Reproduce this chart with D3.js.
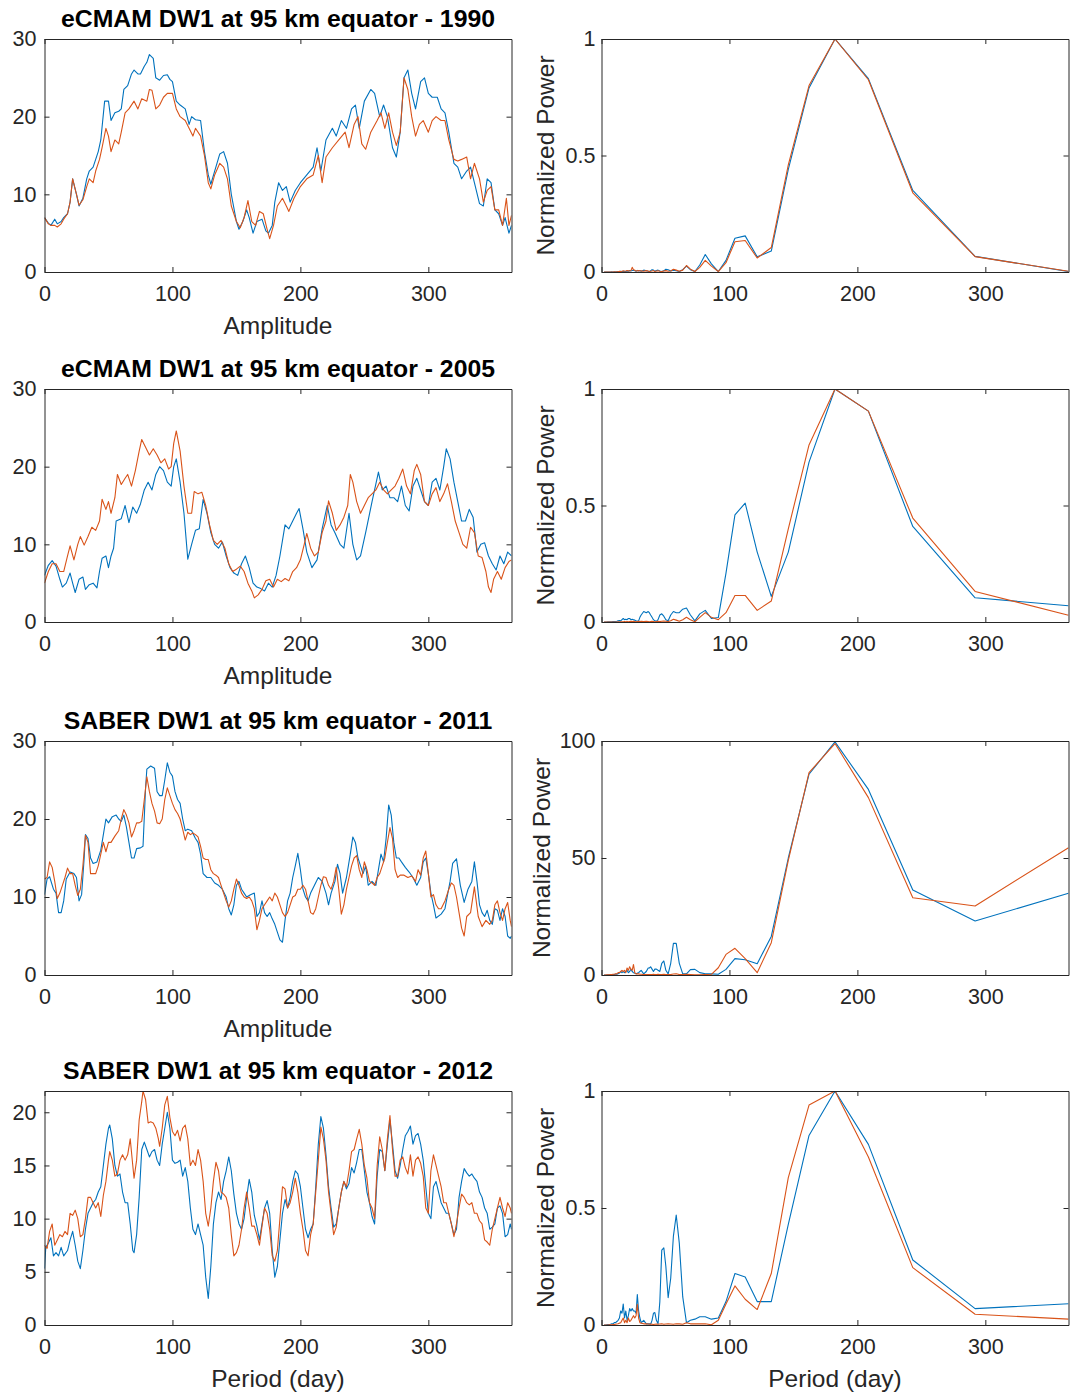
<!DOCTYPE html>
<html><head><meta charset="utf-8">
<script src="https://cdn.jsdelivr.net/npm/d3@7"></script>
<style>
body{margin:0;background:#fff;}
svg{display:block;font-family:"Liberation Sans",Arial,Helvetica,sans-serif;}
.axis text{font-size:21.5px;fill:#262626;font-family:"Liberation Sans",Arial,Helvetica,sans-serif;}
.axis path,.axis line{stroke:#262626;stroke-width:1;}
.lbl{font-size:24.5px;fill:#262626;}
.ttl{font-size:24.8px;font-weight:bold;fill:#000;}
</style></head><body>
<script>
// ---- daily DW1 amplitude, [day, amplitude] ----
const amp1990Blue = [[0,7],[3,6.3],[5,6],[8,6.8],[10,6.2],[13,6.5],[15,7],[18,7.5],[20,9],[22,12],[25,10],[27,8.5],[30,9.5],[33,12],[35,13],[38,13.5],[40,14.5],[42,15.5],[44,17],[47,22],[50,22],[52,19.5],[55,20.5],[58,20.7],[60,21],[62,23.5],[65,24],[68,25.5],[70,26],[73,25.5],[75,25.5],[78,26.5],[80,27],[82,28],[85,27.5],[87,25],[90,24.7],[93,25.3],[96,25.4],[98,24.8],[100,24.5],[103,22],[106,21.5],[110,21],[113,19],[115,20],[118,19.6],[122,19.5],[125,15.5],[128,12.5],[130,11.3],[133,13],[137,15.2],[140,15.5],[143,14],[146,10],[150,6.5],[152,5.5],[155,6.5],[158,8],[160,7],[163,5],[166,6.5],[170,6.8],[173,5.3],[175,5],[178,6],[180,9],[183,11.5],[186,10.5],[189,11],[192,9],[196,10.5],[200,11.5],[205,12.5],[210,13.5],[213,16],[216,13],[220,17],[225,18.5],[228,17.5],[232,19.5],[236,18.5],[240,21],[243,21.5],[246,18.5],[250,22],[255,23.5],[258,23],[262,20],[265,21.5],[268,20],[272,16],[275,14.8],[278,18],[281,25],[284,26],[287,23],[290,21],[294,24.5],[297,25],[300,23],[303,22.5],[307,22.5],[310,21],[313,20.5],[316,18],[320,14],[323,13.5],[326,12],[330,13],[333,13.5],[336,11.5],[340,8.8],[343,8.5],[346,12],[349,11.5],[352,8],[355,7.5],[358,6],[360,7],[363,5],[365,6]];
const amp1990Orange = [[0,7],[3,6.2],[5,6],[8,6],[10,5.8],[13,6.2],[15,6.8],[18,7.5],[20,9],[22,12],[25,10],[27,8.6],[30,9.3],[33,11],[35,12],[38,11.5],[40,13],[43,14.5],[45,16],[48,18.5],[50,17.5],[52,15.5],[55,17],[58,16.5],[60,18],[63,20.5],[66,21],[70,22],[73,21],[76,22.3],[80,22],[82,23.5],[84,23.4],[87,21],[90,21.5],[93,22.5],[96,23],[100,23],[103,21],[106,20],[110,19.5],[113,18.5],[116,17.5],[118,18.5],[122,17.5],[125,15],[128,11.5],[130,10.7],[133,12.5],[137,14],[140,13.5],[143,12],[146,8.5],[150,6.5],[153,5.7],[156,7],[159,9.2],[162,6.5],[165,6],[168,7.8],[171,7.5],[174,5.5],[176,4.3],[179,6],[182,8.5],[186,9.5],[189,8.5],[191,7.8],[195,9.5],[200,11],[205,12],[210,12.5],[214,15],[217,11.5],[220,14.8],[225,16],[230,17],[235,18],[238,16],[242,19],[245,20],[248,16.5],[251,15.8],[255,18],[260,19.5],[263,20.5],[266,18.5],[269,20.5],[272,18],[275,16.3],[278,18],[281,25],[284,23.5],[287,20],[290,17.5],[293,19],[296,19.5],[300,18],[303,19.5],[306,20],[310,19.5],[313,19.5],[316,17],[320,14.5],[323,14.3],[326,14.5],[330,14.8],[333,12],[336,14],[340,12],[343,9],[346,10.5],[349,11],[352,8],[355,8],[358,6],[361,9.5],[363,6],[365,7.3]];

const amp2005Blue = [[0,6],[3,7.3],[6,7.9],[9,7.2],[12,5.5],[14,4.5],[17,5],[20,6.3],[22,5],[24,3.8],[27,5.5],[30,5.8],[32,4.2],[35,4.8],[38,5],[41,4.4],[43,6.5],[45,8.2],[48,8.5],[50,7],[52,8.5],[54,9.5],[56,13],[60,13.3],[63,15],[66,12.8],[69,14.8],[72,14],[75,15.2],[78,17],[81,18],[84,17],[87,19],[90,20],[93,19.5],[96,18],[99,17.5],[101,20],[103,21],[106,18],[109,14],[112,8.1],[115,10],[118,11.8],[121,12],[124,15.8],[127,14],[130,11.5],[133,10],[136,9.5],[139,10.3],[142,8.5],[145,7],[148,6.3],[151,6],[154,7.5],[157,8.5],[160,7],[163,5],[166,4.5],[169,4.3],[172,4],[175,5],[178,4.5],[181,6],[184,8.5],[188,12.5],[191,12],[194,13],[197,14],[199,14.6],[202,12],[205,9],[209,7],[213,8],[217,12],[221,15],[224,12.5],[227,11.5],[231,10],[234,9.5],[238,14],[241,10],[244,8],[247,8.5],[251,11.5],[256,15.5],[261,19.3],[264,17],[267,17.5],[270,16],[273,16],[276,15.5],[279,17.5],[282,15],[285,14.3],[288,17.5],[291,18.5],[294,17],[297,15.5],[300,15],[303,18],[306,18.5],[309,17],[312,20],[314,22.3],[317,21],[320,18],[323,15.5],[326,13],[329,13],[332,14.5],[335,13.5],[338,9],[341,10],[344,10.2],[347,8.5],[350,7.5],[353,6.7],[356,8.5],[359,7.5],[362,9],[365,8.5]];
const amp2005Orange = [[0,5],[3,6.5],[6,7.5],[9,7.5],[12,6.5],[15,6.5],[18,8.5],[20,9.8],[23,8],[26,10],[28,11],[31,9.9],[34,11],[37,12.2],[40,11.8],[43,13],[45,15.8],[48,14.5],[50,15.5],[52,14],[55,16],[57,19],[60,17.7],[63,18.5],[65,19],[68,17.5],[71,19.5],[74,22],[76,23.5],[79,22.5],[82,21.5],[85,22.3],[88,21.5],[91,20.5],[94,21],[97,19.7],[99,20],[101,23],[103,24.6],[106,22],[109,17.5],[112,14],[115,14],[117,16.8],[120,16.5],[123,16.7],[126,15],[129,12.5],[132,10.5],[135,10],[138,10.5],[141,9.5],[144,7.5],[147,6.5],[150,6.8],[153,7.2],[156,6.5],[159,5],[162,4],[164,3.1],[167,3.5],[170,4.2],[173,5.3],[176,5.5],[179,4.5],[182,5.5],[185,5.2],[188,5.6],[191,5.3],[194,6.5],[197,7],[200,8],[203,10],[205,11.4],[208,9.5],[211,8.5],[214,9],[217,11.5],[220,13],[222,15.6],[225,14],[228,11.8],[231,12.5],[234,13.5],[237,15],[239,19],[241,18],[244,15.5],[247,14],[250,15],[253,16],[256,16.5],[259,17],[262,18],[265,17],[268,16.5],[271,17],[274,17.5],[277,18.5],[280,19.7],[283,17.5],[286,16.5],[289,19.5],[291,20.3],[294,19],[297,15.5],[300,15],[303,16.5],[306,17.3],[309,15.5],[312,16.5],[315,17.8],[318,15.5],[321,13],[324,11.5],[327,10],[330,9.5],[333,12.2],[336,11.5],[339,8.5],[342,8.3],[345,6.5],[347,4.5],[349,3.8],[351,5.5],[354,6.5],[357,5.5],[360,7],[363,7.8],[365,8]];

const amp2011Blue = [[0,10.3],[2,12.3],[4,12.6],[7,11],[9,10.5],[11,8],[13,8],[15,9.5],[17,12.3],[20,13.2],[23,13],[25,12.5],[27,9.5],[29,10.3],[31,15],[32,18],[34,17.5],[36,15],[38,14.3],[41,14.5],[44,16],[46,18],[48,20],[50,19.5],[53,20.3],[56,20.5],[58,20],[60,19.7],[62,20.5],[64,19],[66,17],[68,15],[70,15],[72,16.2],[75,16.3],[77,16.5],[79,24],[80,26.4],[83,26.8],[86,26.5],[88,23.5],[90,23],[92,23],[94,25],[96,27.2],[98,26],[100,25.5],[102,23.5],[104,22.5],[106,22],[108,20],[110,18.5],[112,18.7],[115,18.5],[118,17.5],[120,17],[122,15.5],[124,13],[127,12.5],[130,12.5],[133,11.8],[136,11.5],[139,11],[142,10],[144,8.5],[146,7.7],[148,9],[150,11.5],[152,12],[154,11],[156,10.5],[158,10],[161,10.3],[164,10.5],[166,7.5],[168,8],[170,9.5],[172,8],[174,7.5],[176,8],[178,7.2],[180,6.5],[182,5.5],[184,4.5],[186,4.2],[188,7],[190,9.5],[192,10.5],[194,12.5],[196,14],[198,15.6],[200,13.5],[202,11],[204,10],[206,9.5],[208,10.5],[211,11.5],[214,12.5],[217,12],[220,10.5],[222,9],[224,10.5],[227,12],[229,14.2],[231,13],[233,10.5],[236,12.5],[239,15.5],[241,17.7],[243,17],[245,15],[247,14],[249,13],[251,14],[253,11.5],[256,12],[259,11.5],[261,13.5],[263,15.5],[265,14.5],[267,17.5],[269,21.8],[271,20.5],[273,17],[275,15],[277,15],[279,14.5],[282,13.8],[285,13.2],[288,12.5],[291,11.5],[294,12.5],[296,14.5],[298,15],[300,13],[302,10.5],[304,9],[306,7.3],[310,7.8],[313,8.5],[317,12],[319,14.3],[322,14.9],[325,11.5],[328,9.3],[331,11],[334,12],[336,14.5],[338,12],[340,9],[342,8],[344,7.5],[346,8.3],[348,7],[350,6.5],[352,8.5],[354,8.3],[356,7],[358,8.5],[360,7.5],[362,5],[364,4.7],[365,5]];
const amp2011Orange = [[0,12.3],[2,12.5],[4,14.5],[6,13.8],[8,12],[10,9.8],[12,10.5],[14,11.5],[16,12.5],[18,13.7],[20,13],[22,13],[24,11.5],[26,10.2],[28,11],[30,14],[32,17.9],[34,17],[36,13],[38,13],[40,13],[42,14],[44,15.5],[46,17],[48,15.8],[50,17],[52,17],[55,17.8],[58,18.5],[60,20],[62,21.2],[64,20.5],[66,19.5],[68,17.7],[70,18.5],[72,19.5],[74,19.5],[76,19.7],[78,22.5],[80,25.4],[82,23.5],[84,22],[86,21],[88,19.5],[90,19.4],[92,20],[94,22.5],[96,24],[98,23],[100,22],[102,21.2],[104,20.7],[106,20],[108,18.7],[110,17.3],[112,18.3],[114,18],[116,18.2],[118,18],[120,17.7],[122,16.5],[124,15],[126,14.8],[128,14.8],[130,13.5],[132,13],[134,12.8],[136,12.5],[138,11.5],[140,10.5],[142,9.5],[144,8.7],[146,9.5],[148,11],[150,12.3],[152,11.5],[154,10.5],[156,10],[158,9.8],[160,10],[162,9.5],[164,8.5],[166,5.8],[168,7],[170,8.5],[172,9],[174,9.5],[176,10],[178,9.5],[180,10.5],[182,10],[184,9],[186,8],[188,7.5],[190,8],[192,9],[194,10],[196,10.2],[198,11],[200,11],[202,11.5],[204,11],[206,9.5],[208,8],[210,7.8],[212,8.5],[214,10],[216,11.5],[218,12.6],[220,12.5],[222,11.5],[224,11],[226,12],[228,13.8],[230,11],[232,7.8],[234,9],[236,11],[238,12.5],[240,14],[242,15],[244,15.3],[246,13.5],[248,12.5],[250,14.5],[252,13.5],[254,12],[256,11.8],[258,11.5],[260,12.5],[262,13],[264,14],[266,15],[268,17],[270,18.9],[272,17.5],[274,13.5],[276,12.5],[278,12.8],[281,12.8],[284,12.5],[287,12.7],[290,12],[292,13.5],[294,12.8],[296,15],[298,15.9],[300,13],[302,10],[304,10.3],[306,9],[308,8.5],[310,8.5],[313,9.5],[316,11],[318,11.8],[320,11.5],[322,10],[324,8],[326,6],[328,5],[330,7.5],[333,8],[336,11.3],[339,7.5],[342,6.2],[345,7],[348,6.5],[350,7],[352,9],[354,9.5],[356,8],[358,7],[360,8.5],[362,9.3],[364,7],[365,6.2]];

const amp2012Blue = [[0,5.3],[1,7.3],[3,7.7],[5,8.2],[7,6.5],[9,6.8],[11,6.5],[13,7.3],[15,6.5],[18,7],[20,8],[22,8.8],[24,7.5],[26,6],[28,5.3],[30,7],[32,9],[34,10.5],[36,11],[38,11.5],[40,11.8],[42,12.5],[44,13],[46,15],[48,17],[50,18.5],[51,18.8],[53,17.5],[55,15],[57,14],[59,14.2],[61,12.5],[63,11.5],[65,11.5],[67,9.5],[69,7],[70,6.8],[72,8.5],[74,12],[76,16.5],[78,17.2],[80,16.5],[82,15.8],[84,16.3],[86,16.5],[88,15.5],[90,15],[92,17],[94,18.5],[96,20],[98,18.5],[100,15.5],[102,15.2],[104,15.3],[106,15.5],[108,14],[110,14.8],[112,13.5],[114,11],[116,9],[118,8.5],[120,9.5],[122,8.5],[124,7.5],[126,4.5],[128,2.5],[130,5.5],[132,9.5],[134,11.5],[136,12.5],[138,11.8],[140,13.5],[142,14.5],[144,15.8],[146,14.5],[148,12.3],[150,10.5],[152,9.5],[154,9],[156,10],[158,12],[160,13.7],[162,12.5],[164,10.3],[166,9.3],[168,8],[170,9.5],[172,11],[174,11.7],[176,10.5],[178,7],[180,4.5],[182,5.5],[184,8],[186,10.5],[188,11.8],[190,11],[192,12],[194,13.5],[196,14.5],[198,14.2],[200,13],[202,11],[204,9],[206,8.2],[208,9],[210,9.5],[212,13],[214,17],[216,19.6],[218,18.5],[220,16],[222,13],[224,11],[226,9.2],[228,9.5],[230,11],[232,12.5],[234,13.5],[236,12.8],[238,13.3],[240,14.8],[242,14.3],[244,15.3],[246,16.5],[248,16.5],[250,14.5],[252,12.5],[254,11.5],[256,10.2],[258,9.5],[260,14],[262,16.5],[264,16.3],[266,14.5],[268,17],[270,19.3],[272,17],[274,14.5],[276,13.8],[278,15],[280,16.5],[282,17.8],[284,18.2],[286,18.7],[288,17],[290,17.8],[292,18],[294,17],[296,15.5],[298,13],[300,10.5],[302,10],[304,13],[306,13.5],[308,12.5],[310,11.5],[312,11],[314,10.5],[316,10.5],[318,9.5],[320,8.5],[322,9],[324,12],[326,13.5],[328,14.7],[330,14.3],[332,14],[334,14.2],[336,13.8],[338,13.5],[340,12.5],[342,12],[344,11],[346,10.5],[348,9],[350,9.2],[352,9.5],[354,11],[356,11.2],[358,10.5],[360,8.3],[362,8.5],[364,9.5],[365,9]];
const amp2012Orange = [[0,7.5],[2,7.2],[4,8.8],[6,9.5],[8,7.5],[10,8],[12,8.5],[14,8.3],[16,8.8],[18,8.5],[20,10.5],[22,10.3],[24,10.8],[26,10],[28,8.3],[30,8.5],[32,10],[34,12],[36,12],[38,11.5],[40,11],[42,11.5],[44,10.2],[46,12.2],[48,13.5],[50,15.5],[51,16.3],[53,15.5],[55,14],[57,14.2],[59,15.5],[61,16],[63,15.5],[65,16],[67,17.5],[69,15],[70,13.8],[72,15.5],[74,19.3],[76,21],[77,22],[79,21.2],[81,19],[83,19.1],[85,19],[87,18.5],[89,17.5],[90,16.8],[92,18.5],[94,20.7],[96,21.5],[98,19.5],[100,18.2],[102,17.8],[104,18.3],[106,17.3],[108,18.5],[110,18.8],[112,17.5],[114,15],[116,15.5],[118,15],[120,16.5],[122,15.5],[124,13.5],[126,10.5],[128,9.3],[130,11],[132,13.5],[134,15.3],[136,14.5],[138,12.5],[140,12.3],[142,12],[144,11],[146,8.5],[148,6.5],[150,6.8],[152,7.5],[154,9],[156,11],[158,12.5],[160,11],[162,9.3],[164,9.3],[166,8.5],[168,7.5],[170,9.3],[172,11],[174,10.5],[176,9],[178,6.5],[180,6],[182,7],[184,10],[186,13],[188,12.8],[190,11],[192,11.5],[194,12.5],[196,13.8],[198,12.5],[200,10.5],[202,9],[204,7],[206,6.5],[208,8.5],[210,9.5],[212,12.5],[214,15.5],[216,18.6],[218,17.5],[220,15.5],[222,12.5],[224,10.5],[226,8.5],[228,9.2],[230,11],[232,12.5],[234,13.5],[236,13],[238,14.5],[240,16.3],[242,16.5],[244,17.5],[246,18.4],[248,17],[250,15],[252,13.8],[254,11.5],[256,11],[258,10],[260,15],[262,17.7],[264,16.5],[266,14.5],[268,17.5],[270,19.7],[272,16.5],[274,14],[276,14],[278,15.5],[280,15.8],[282,14.8],[284,14.2],[286,16],[288,14],[290,15.5],[292,15.8],[294,15.2],[296,14],[298,11],[300,10.5],[302,14.5],[304,16],[306,15],[308,14],[310,13],[312,11.5],[314,11.5],[316,10.5],[318,9.5],[320,8.3],[322,9.5],[324,11],[326,12.3],[328,12],[330,11.5],[332,11.3],[334,11.5],[336,10.5],[338,10.5],[340,9.8],[342,9.5],[344,8],[346,7.8],[348,7.5],[350,9],[352,10],[354,11],[356,12],[358,11],[360,10.2],[362,11.5],[364,11],[365,10.5]];

// ---- power spectra: periods (day) and normalized power at each period ----
const periods = [365,292,243.3,208.6,182.5, 162.2,146,132.7,121.7,112.3, 104.3,97.3,91.3,85.9,81.1, 76.8,73,69.5,66.4,63.5, 60.8,58.4,56.2,54.1,52.1, 50.3,48.7,47.1,45.6,44.2, 42.9,41.7,40.6,39.5,38.4, 37.4,36.5,35,33,31, 30,29,28,27,26, 25,24,23,22,21, 20,19,18,17,16, 15,14,13,12,11, 10,9,8,7,6, 5,4,3,2];

const pow1990Blue = [0.002,0.067,0.35,0.83,1, 0.79,0.44,0.09,0.065,0.155, 0.145,0.05,0.002,0.035,0.075, 0.03,0.002,0.01,0.025,0.01, 0.002,0.005,0.008,0.004,0.01, 0.012,0.005,0.002,0.004,0.008, 0.006,0.003,0.008,0.01,0.005, 0.002,0.003,0.005,0.008,0.003, 0.006,0.004,0.007,0.003,0.005, 0.008,0.006,0.004,0.006,0.003, 0.004,0.002,0.003,0.002,0.002, 0.003,0.001,0.002,0.001,0.001, 0.001,0,0.001,0,0, 0,0,0,0];
const pow1990Orange = [0.003,0.066,0.34,0.825,1, 0.8,0.46,0.105,0.06,0.135, 0.13,0.04,0.002,0.025,0.05, 0.02,0.002,0.012,0.028,0.008, 0.003,0.008,0.012,0.004,0.003, 0.006,0.004,0.002,0.003,0.005, 0.004,0.002,0.006,0.004,0.003, 0.002,0.004,0.006,0.003,0.005, 0.004,0.006,0.005,0.004,0.008, 0.01,0.02,0.006,0.004,0.005, 0.006,0.004,0.003,0.005,0.003, 0.002,0.003,0.001,0.001,0, 0.001,0,0,0,0, 0,0,0,0];

const pow2005Blue = [0.07,0.104,0.41,0.905,1, 0.686,0.3,0.11,0.3,0.51, 0.46,0.21,0.019,0.015,0.05, 0.035,0.005,0.03,0.06,0.055, 0.04,0.04,0.045,0.03,0.005, 0.01,0.025,0.035,0.03,0.01, 0.003,0.005,0.01,0.02,0.03, 0.04,0.045,0.04,0.045,0.03, 0.02,0.005,0.003,0.005,0.008, 0.01,0.012,0.01,0.015,0.015, 0.01,0.012,0.01,0.015,0.01, 0.005,0.006,0.005,0.003,0.002, 0.002,0.002,0.001,0.001,0.001, 0.001,0,0,0];
const pow2005Orange = [0.029,0.131,0.446,0.905,1, 0.76,0.4,0.09,0.05,0.114, 0.114,0.04,0.01,0.02,0.04, 0.02,0.001,0.01,0.02,0.01, 0.003,0.008,0.012,0.005,0.002, 0.003,0.004,0.003,0.002,0.003, 0.002,0.001,0.002,0.003,0.002, 0.001,0.002,0.003,0.002,0.003, 0.002,0.003,0.002,0.001,0.002, 0.003,0.002,0.003,0.002,0.001, 0.002,0.001,0.002,0.001,0.001, 0.001,0,0.001,0,0, 0,0,0,0,0, 0,0,0,0];

const pow2011Blue = [34.9,23.1,36.3,79.3,99.6, 85.8,50,16.5,4.8,6.5, 7,2.4,0.3,0.5,0.5, 1,2.4,2.3,0.5,0.5, 5,13.5,13.5,5,0.5, 2,6,5,1.5,2, 2.5,2.5,1.5,2.5,3.5, 3,3,1.5,0.5,2, 1.5,1,0.8,0.5,0.8, 1,1.5,2.5,1.5,1, 2,1.5,1,1.5,1, 1.5,0.8,0.5,0.3,0.3, 0.2,0.2,0.1,0.1,0.1, 0.1,0,0,0];
const pow2011Orange = [54.4,29.5,33,75.8,98.9, 86.5,49,13.8,1,7, 11.4,8.8,3.1,0.3,0.2, 0.1,0.1,0.2,0.3,0.2, 0.2,0.5,0.4,0.2,0.2, 0.2,0.3,0.2,0.2,0.3, 0.2,0.2,0.3,0.2,0.2, 0.2,0.2,0.2,0.2,0.3, 0.3,0.5,0.5,0.5,1, 4.5,2,2.5,3.5,2, 3,1,2,1.5,2, 1.5,1,1,0.5,0.5, 0.3,0.3,0.2,0.2,0.1, 0.1,0.1,0,0];

const pow2012Blue = [0.091,0.07,0.278,0.772,1, 0.81,0.43,0.1,0.1,0.205, 0.22,0.1,0.03,0.025,0.035, 0.035,0.025,0.02,0.01,0.12, 0.35,0.47,0.38,0.2,0.117, 0.25,0.33,0.32,0.1,0.005, 0.02,0.053,0.05,0.02,0.003, 0.005,0.005,0.005,0.02,0.01, 0.03,0.06,0.13,0.05,0.06, 0.06,0.07,0.06,0.07,0.04, 0.02,0.06,0.03,0.09,0.05, 0.06,0.03,0.02,0.015,0.01, 0.01,0.005,0.005,0.003,0.002, 0.002,0.001,0,0];
const pow2012Orange = [0.025,0.046,0.245,0.718,1, 0.94,0.63,0.22,0.066,0.11, 0.167,0.09,0.02,0.001,0.005, 0.005,0.005,0.005,0.01,0.003, 0.005,0.005,0.003,0.004,0.005, 0.004,0.003,0.005,0.004,0.003, 0.004,0.003,0.002,0.003,0.004, 0.003,0.004,0.005,0.005,0.008, 0.01,0.03,0.088,0.04,0.03, 0.04,0.03,0.02,0.015,0.03, 0.01,0.02,0.01,0.03,0.02, 0.01,0.008,0.005,0.004,0.003, 0.002,0.002,0.001,0.001,0.001, 0,0,0,0];

// ---- titles, axis ranges and tick labels ----
const titles = ["eCMAM DW1 at 95 km equator - 1990","eCMAM DW1 at 95 km equator - 2005","SABER DW1 at 95 km equator - 2011","SABER DW1 at 95 km equator - 2012"];
const dayTicks = [0,100,200,300];
const ampMax = [30,30,30,22];
const ampTicks = [[0,10,20,30],[0,10,20,30],[0,10,20,30],[0,5,10,15,20]];
const powMax = [1,1,100,1];
const powTicks = [[0,0.5,1],[0,0.5,1],[0,50,100],[0,0.5,1]];
const leftXLabels = ["Amplitude","Amplitude","Amplitude","Period (day)"];
const rightXLabels = [null,null,null,"Period (day)"];
const seriesColors = ["#0072BD","#D95319"];

const ampSeries = [[amp1990Blue,amp1990Orange],[amp2005Blue,amp2005Orange],[amp2011Blue,amp2011Orange],[amp2012Blue,amp2012Orange]];
const powSeries = [[pow1990Blue,pow1990Orange],[pow2005Blue,pow2005Orange],[pow2011Blue,pow2011Orange],[pow2012Blue,pow2012Orange]]
  .map(pair => pair.map(vals => periods.map((p,j)=>[p, vals[j]])));

// ---- layout ----
const svg = d3.select("body").append("svg").attr("width",1070).attr("height",1395);
const rows = [[39,272],[389,622],[741,975],[1091,1325]];
const plotW = 467, leftX0 = 44.5, rightX0 = 601.5;
const fmt = d3.format("~g");

function drawPanel(o){
  const x = d3.scaleLinear().domain([0,365]).range([o.x0, o.x0+plotW]);
  const y = d3.scaleLinear().domain([0,o.yMax]).range([o.bottom, o.top]);
  const g = svg.append("g");
  const clipId = "clip-"+o.id;
  svg.append("clipPath").attr("id",clipId).append("rect")
    .attr("x",o.x0).attr("y",o.top).attr("width",plotW).attr("height",o.bottom-o.top);
  const line = d3.line().x(d=>x(d[0])).y(d=>y(d[1]));
  const lg = g.append("g").attr("clip-path",`url(#${clipId})`);
  o.series.forEach((s,k)=>{
    lg.append("path").datum(s).attr("d",line).attr("fill","none")
      .attr("stroke",seriesColors[k]).attr("stroke-width",1.1).attr("stroke-linejoin","round");
  });
  g.append("g").attr("class","axis").attr("transform",`translate(0,${o.bottom})`)
    .call(d3.axisBottom(x).tickValues(dayTicks).tickFormat(fmt).tickSizeInner(-5).tickSizeOuter(0).tickPadding(14));
  g.append("g").attr("class","axis").attr("transform",`translate(0,${o.top})`)
    .call(d3.axisTop(x).tickValues(dayTicks).tickFormat("").tickSizeInner(-5).tickSizeOuter(0));
  g.append("g").attr("class","axis").attr("transform",`translate(${o.x0},0)`)
    .call(d3.axisLeft(y).tickValues(o.yTicks).tickFormat(fmt).tickSizeInner(-5).tickSizeOuter(0).tickPadding(o.tickPad));
  g.append("g").attr("class","axis").attr("transform",`translate(${o.x0+plotW},0)`)
    .call(d3.axisRight(y).tickValues(o.yTicks).tickFormat("").tickSizeInner(-5).tickSizeOuter(0));
  if (o.xLabel) {
    g.append("text").attr("class","lbl").attr("x",o.x0+plotW/2).attr("y",o.bottom+62)
      .attr("text-anchor","middle").text(o.xLabel);
  }
  if (o.yLabel) {
    g.append("text").attr("class","lbl").attr("text-anchor","middle")
      .attr("transform",`translate(${o.x0-o.yLabelGap},${(o.top+o.bottom)/2}) rotate(-90)`)
      .text(o.yLabel);
  }
  if (o.title) {
    g.append("text").attr("class","ttl").attr("x",o.x0+plotW/2).attr("y",o.top-12)
      .attr("text-anchor","middle").text(o.title);
  }
}

rows.forEach(([top,bottom],i)=>{
  drawPanel({id:"amp"+i, x0:leftX0, top, bottom, yMax:ampMax[i], yTicks:ampTicks[i], tickPad:8,
    series:ampSeries[i], xLabel:leftXLabels[i], title:titles[i]});
  drawPanel({id:"pow"+i, x0:rightX0, top, bottom, yMax:powMax[i], yTicks:powTicks[i], tickPad:6,
    series:powSeries[i], xLabel:rightXLabels[i], yLabel:"Normalized Power",
    yLabelGap: powMax[i] >= 100 ? 52 : 48});
});
</script>
</body></html>
